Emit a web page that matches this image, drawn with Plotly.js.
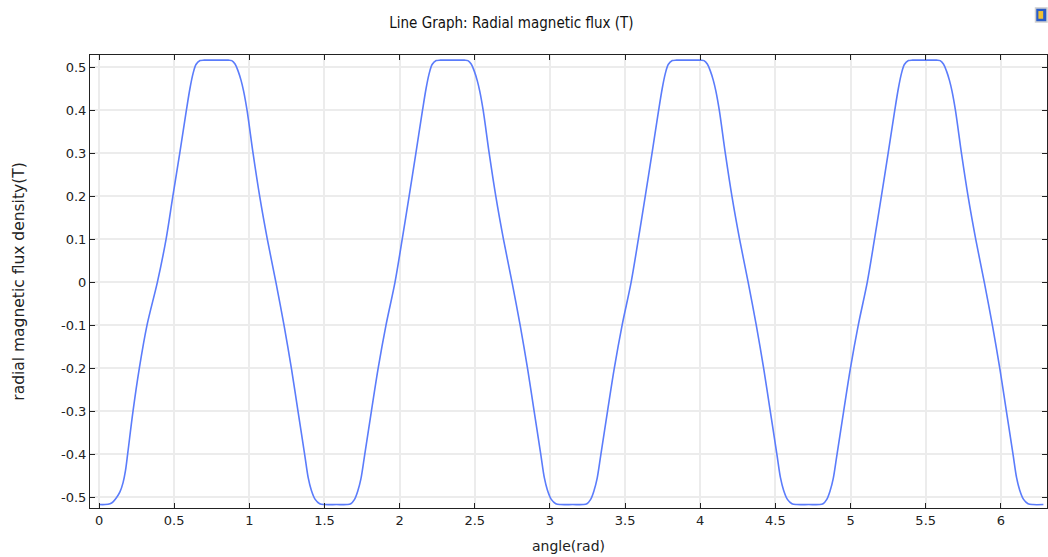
<!DOCTYPE html>
<html>
<head>
<meta charset="utf-8">
<script src="https://cdn.plot.ly/plotly-3.0.1.min.js"></script>
<style>html,body{margin:0;padding:0;background:#fff;}#chart{width:1048px;height:557px;}</style>
</head>
<body>
<div id="chart"></div>
<script>
// angle (rad)
const angle = [
  0.000, 0.040, 0.073, 0.095, 0.118, 0.140, 0.160, 0.176, 0.192, 0.226, 0.268, 0.319, 0.388,
  0.446, 0.491, 0.537, 0.581, 0.605, 0.625, 0.645, 0.672, 0.700, 0.780, 0.860, 0.883,
  0.905, 0.925, 0.945, 0.962, 0.985, 1.025, 1.069, 1.120, 1.177, 1.231, 1.280, 1.324, 1.368,
  1.392, 1.412, 1.438, 1.468, 1.500, 1.580, 1.650,
  1.675, 1.700, 1.722, 1.742, 1.768, 1.812, 1.857, 1.909, 1.969,
  2.017, 2.063, 2.108, 2.152, 2.176, 2.196, 2.216, 2.243, 2.271, 2.351, 2.431, 2.454,
  2.476, 2.496, 2.516, 2.533, 2.556, 2.596, 2.640, 2.691, 2.748, 2.802, 2.851, 2.895, 2.939,
  2.963, 2.983, 3.009, 3.039, 3.071, 3.151, 3.221,
  3.246, 3.271, 3.293, 3.313, 3.339, 3.383, 3.428, 3.480, 3.540,
  3.588, 3.634, 3.679, 3.723, 3.747, 3.767, 3.787, 3.814, 3.842, 3.922, 4.002, 4.025,
  4.047, 4.067, 4.087, 4.104, 4.127, 4.167, 4.211, 4.262, 4.319, 4.373, 4.422, 4.466, 4.510,
  4.534, 4.554, 4.580, 4.610, 4.642, 4.722, 4.792,
  4.817, 4.842, 4.864, 4.884, 4.910, 4.954, 4.999, 5.051, 5.111,
  5.159, 5.205, 5.250, 5.294, 5.318, 5.338, 5.358, 5.385, 5.413, 5.493, 5.573, 5.596,
  5.618, 5.638, 5.658, 5.675, 5.698, 5.738, 5.782, 5.833, 5.890, 5.944, 5.993, 6.037, 6.081,
  6.105, 6.125, 6.151, 6.181, 6.213, 6.283
];
// radial magnetic flux density (T)
const fluxDensity = [
  -0.517, -0.517, -0.515, -0.510, -0.500, -0.487, -0.466, -0.438, -0.395, -0.300, -0.200, -0.100, 0.000,
  0.100, 0.200, 0.300, 0.400, 0.451, 0.485, 0.507, 0.516, 0.517, 0.517, 0.517, 0.516,
  0.508, 0.492, 0.470, 0.445, 0.400, 0.300, 0.200, 0.100, 0.000, -0.100, -0.200, -0.300, -0.400,
  -0.455, -0.483, -0.505, -0.515, -0.517, -0.517, -0.517,
  -0.515, -0.505, -0.485, -0.458, -0.400, -0.300, -0.200, -0.100, 0.000,
  0.100, 0.200, 0.300, 0.400, 0.451, 0.485, 0.507, 0.516, 0.517, 0.517, 0.517, 0.516,
  0.508, 0.492, 0.470, 0.445, 0.400, 0.300, 0.200, 0.100, 0.000, -0.100, -0.200, -0.300, -0.400,
  -0.455, -0.483, -0.505, -0.515, -0.517, -0.517, -0.517,
  -0.515, -0.505, -0.485, -0.458, -0.400, -0.300, -0.200, -0.100, 0.000,
  0.100, 0.200, 0.300, 0.400, 0.451, 0.485, 0.507, 0.516, 0.517, 0.517, 0.517, 0.516,
  0.508, 0.492, 0.470, 0.445, 0.400, 0.300, 0.200, 0.100, 0.000, -0.100, -0.200, -0.300, -0.400,
  -0.455, -0.483, -0.505, -0.515, -0.517, -0.517, -0.517,
  -0.515, -0.505, -0.485, -0.458, -0.400, -0.300, -0.200, -0.100, 0.000,
  0.100, 0.200, 0.300, 0.400, 0.451, 0.485, 0.507, 0.516, 0.517, 0.517, 0.517, 0.516,
  0.508, 0.492, 0.470, 0.445, 0.400, 0.300, 0.200, 0.100, 0.000, -0.100, -0.200, -0.300, -0.400,
  -0.455, -0.483, -0.505, -0.515, -0.517, -0.517
];
const xTickVals = [0, 0.5, 1, 1.5, 2, 2.5, 3, 3.5, 4, 4.5, 5, 5.5, 6];
const xTickText = ["0", "0.5", "1", "1.5", "2", "2.5", "3", "3.5", "4", "4.5", "5", "5.5", "6"];
const yTickVals = [0.5, 0.4, 0.3, 0.2, 0.1, 0, -0.1, -0.2, -0.3, -0.4, -0.5];
const yTickText = ["0.5", "0.4", "0.3", "0.2", "0.1", "0", "-0.1", "-0.2", "-0.3", "-0.4", "-0.5"];

const trace = {
  x: angle, y: fluxDensity, type: 'scatter', mode: 'lines',
  line: {color: '#5b7cfb', width: 1.6, shape: 'spline', smoothing: 0.9},
  hoverinfo: 'x+y'
};

const axisCommon = {
  showline: true, linecolor: '#222', linewidth: 1, mirror: 'ticks',
  ticks: 'inside', ticklen: 5, tickcolor: '#222', tickwidth: 1,
  showgrid: true, gridcolor: '#ececec', gridwidth: 2, zeroline: false,
  tickfont: {family: 'DejaVu Sans', size: 13, color: '#222'},
  tickmode: 'array'
};

const layout = {
  width: 1048, height: 557,
  margin: {l: 90, r: 1, t: 55, b: 49},
  paper_bgcolor: '#fff', plot_bgcolor: '#fff',
  showlegend: false,
  title: {text: 'Line Graph: Radial magnetic flux (T)', x: 0.488, xanchor: 'center', y: 0.96, yanchor: 'middle',
          font: {family: 'DejaVu Sans Condensed, DejaVu Sans', size: 15, color: '#111'}},
  xaxis: Object.assign({}, axisCommon, {
    range: [-0.06, 6.307], tickvals: xTickVals, ticktext: xTickText,
    title: {text: 'angle(rad)', standoff: 14, font: {family: 'DejaVu Sans', size: 14, color: '#222'}}
  }),
  yaxis: Object.assign({}, axisCommon, {
    range: [-0.525, 0.529], tickvals: yTickVals, ticktext: yTickText,
    title: {text: 'radial magnetic flux density(T)', standoff: 32, font: {family: 'DejaVu Sans', size: 15.5, color: '#222'}}
  }),
  shapes: [
    {type: 'rect', xref: 'paper', yref: 'paper', x0: 0.988, x1: 1.0, y0: 1.073, y1: 1.104,
     fillcolor: '#2a5cc8', line: {color: '#d0d0d0', width: 1.5}},
    {type: 'rect', xref: 'paper', yref: 'paper', x0: 0.991, x1: 0.996, y0: 1.080, y1: 1.097,
     fillcolor: '#f2c230', line: {width: 0}}
  ]
};

Plotly.newPlot('chart', [trace], layout, {displayModeBar: false, staticPlot: true});
</script>
</body>
</html>
